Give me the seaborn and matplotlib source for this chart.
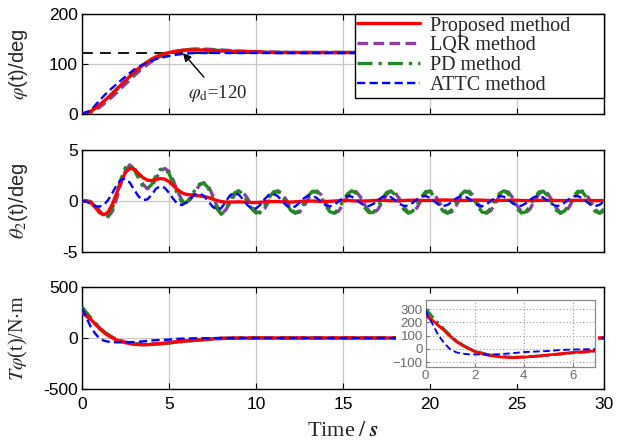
import numpy as np
import pandas as pd
import matplotlib
matplotlib.use("Agg")
import matplotlib.pyplot as plt
from matplotlib.patches import Rectangle
import seaborn as sns

sns.set_style("ticks")
plt.rcParams["font.family"] = ["Liberation Sans", "DejaVu Sans"]
plt.rcParams["mathtext.fontset"] = "stix"

# ---------------- data ----------------
methods = ["Proposed method", "LQR method", "PD method", "ATTC method"]

# panel 1: attitude angle phi(t) [deg]
t_phi = [0, 0.5, 1, 1.5, 2, 2.5, 3, 3.5, 4, 4.5, 5, 5.5, 6, 6.5, 7, 7.5, 8,
         9, 10, 11, 12, 14, 16, 18, 20, 22, 24, 26, 28, 30]
phi_ref = 123
phi_prop = [0, 5, 18, 33, 50, 67, 84, 98, 110, 118, 123, 126, 128, 128, 128, 127, 126,
            125, 124, 123, 123, 123, 123, 123, 123, 123, 123, 123, 123, 123]
phi_lqr = [0, 3, 13, 27, 43, 60, 77, 92, 105, 115, 121, 126, 129, 130, 130, 129, 128,
           126, 125, 124, 123, 123, 123, 123, 123, 123, 123, 123, 123, 123]
phi_pd = [0, 5, 17, 32, 49, 66, 83, 97, 109, 118, 123, 126, 128, 129, 129, 128, 127,
          125, 124, 123, 123, 123, 123, 123, 123, 123, 123, 123, 123, 123]
phi_attc = [0, 7, 27, 45, 60, 75, 89, 99, 107, 112, 116, 119, 121, 122, 122, 122, 122,
            122, 122, 122, 122, 122, 122, 122, 122, 122, 122, 122, 122, 122]

# panel 2: theta_2(t) [deg], sampled every 0.25 s from 0 to 30 s
t_theta = np.arange(121) * 0.25
th_prop = [0, 0, -0.15, -0.6, -1.1, -1.35, -1.1, -0.3,
           0.8, 1.9, 2.8, 3.2, 3.1, 2.7, 2.3, 2.05,
           2.0, 2.1, 2.2, 2.15, 1.9, 1.5, 1.1, 0.8,
           0.65, 0.6, 0.55, 0.5, 0.45, 0.35, 0.2, 0.05,
           -0.05, -0.1, -0.1, -0.1, -0.08, -0.1, -0.12, -0.15,
           -0.15, -0.12, -0.08, -0.05, -0.05, -0.05, -0.08, -0.1,
           -0.1, -0.08, -0.05, -0.02, 0.0, 0.0, -0.02, -0.05,
           -0.05, -0.03, 0.0, 0.02, 0.05, 0.05, 0.03, 0.0,
           -0.02, 0.0, 0.02, 0.05, 0.07, 0.07, 0.05, 0.03,
           0.02, 0.03, 0.05, 0.07, 0.08, 0.08, 0.06, 0.05,
           0.05, 0.06, 0.08, 0.1, 0.1, 0.08, 0.06, 0.05,
           0.05, 0.06, 0.08, 0.09, 0.08, 0.06, 0.05, 0.04,
           0.05, 0.06, 0.07, 0.08, 0.07, 0.05, 0.04, 0.04,
           0.05, 0.06, 0.07, 0.07, 0.06, 0.05, 0.04, 0.04,
           0.05, 0.06, 0.07, 0.07, 0.06, 0.05, 0.04, 0.04,
           0.05]
th_lqr = [0, 0, -0.05, -0.4, -0.95, -1.45, -1.55, -1.0,
          0.3, 1.8, 3.0, 3.55, 3.3, 2.5, 1.65, 1.2,
          1.4, 2.2, 2.9, 3.2, 2.9, 2.0, 0.9, 0.05,
          -0.2, 0.2, 0.9, 1.55, 1.8, 1.5, 0.6, -0.45,
          -1.2, -0.9, -0.21, 0.54, 0.97, 0.87, 0.29, -0.49,
          -1.07, -1.17, -0.74, 0.01, 0.71, 1.00, 0.75, 0.07,
          -0.69, -1.15, -1.10, -0.55, 0.23, 0.84, 0.98, 0.59,
          -0.15, -0.86, -1.20, -0.99, -0.33, 0.43, 0.94, 0.92,
          0.40, -0.37, -1.01, -1.19, -0.84, -0.12, 0.61, 0.99,
          0.82, 0.20, -0.58, -1.11, -1.15, -0.66, 0.10, 0.77,
          1.00, 0.68, -0.02, -0.76, -1.18, -1.06, -0.46, 0.32,
          0.88, 0.96, 0.51, -0.24, -0.93, -1.20, -0.93, -0.24,
          0.51, 0.96, 0.89, 0.32, -0.45, -1.05, -1.18, -0.77,
          -0.03, 0.68, 1.00, 0.77, 0.11, -0.66, -1.14, -1.11,
          -0.58, 0.19, 0.82, 0.99, 0.62, -0.11, -0.83, -1.19,
          -1.01]
th_pd = [0, 0, -0.1, -0.5, -1.1, -1.5, -1.45, -0.7,
         0.7, 2.2, 3.3, 3.6, 3.1, 2.2, 1.45, 1.2,
         1.6, 2.5, 3.1, 3.2, 2.7, 1.7, 0.6, -0.1,
         -0.15, 0.4, 1.1, 1.65, 1.75, 1.3, 0.3, -0.75,
         -1.3, -0.9, 0.10, 0.77, 1.00, 0.68, -0.02, -0.77,
         -1.18, -1.06, -0.46, 0.32, 0.89, 0.96, 0.51, -0.24,
         -0.93, -1.20, -0.93, -0.24, 0.51, 0.96, 0.88, 0.32,
         -0.46, -1.06, -1.18, -0.76, -0.02, 0.68, 1.00, 0.77,
         0.10, -0.66, -1.15, -1.11, -0.58, 0.20, 0.82, 0.99,
         0.61, -0.12, -0.84, -1.19, -1.00, -0.37, 0.40, 0.92,
         0.94, 0.43, -0.34, -0.99, -1.20, -0.86, -0.15, 0.59,
         0.98, 0.84, 0.23, -0.55, -1.10, -1.15, -0.69, 0.07,
         0.75, 1.00, 0.71, 0.01, -0.74, -1.17, -1.07, -0.49,
         0.28, 0.87, 0.97, 0.54, -0.21, -0.90, -1.20, -0.95,
         -0.28, 0.48, 0.95, 0.90, 0.35, -0.42, -1.04, -1.18,
         -0.79]
th_attc = [0, -0.05, -0.3, -0.5, -0.55, -0.4, 0.1, 0.8,
           1.6, 2.1, 2.2, 1.8, 1.1, 0.45, 0.1, 0.15,
           0.6, 1.2, 1.45, 1.3, 0.8, 0.2, -0.3, -0.4,
           -0.15, 0.3, 0.65, 0.75, 0.5, 0.0, -0.55, -0.85,
           -0.7, -0.1, 0.55, 0.80, 0.64, 0.17, -0.39, -0.75,
           -0.74, -0.36, 0.19, 0.62, 0.72, 0.47, 0.01, -0.44,
           -0.66, -0.54, -0.17, 0.26, 0.53, 0.53, 0.28, -0.10,
           -0.42, -0.52, -0.36, -0.04, 0.30, 0.49, 0.43, 0.16,
           -0.19, -0.45, -0.48, -0.28, 0.06, 0.38, 0.50, 0.38,
           0.06, -0.28, -0.48, -0.45, -0.19, 0.16, 0.43, 0.49,
           0.30, -0.04, -0.36, -0.50, -0.39, -0.09, 0.25, 0.48,
           0.46, 0.22, -0.13, -0.42, -0.50, -0.33, 0.01, 0.33,
           0.50, 0.41, 0.12, -0.23, -0.46, -0.47, -0.24, 0.11,
           0.40, 0.50, 0.35, 0.02, -0.31, -0.49, -0.43, -0.15,
           0.20, 0.45, 0.48, 0.27, -0.08, -0.38, -0.50, -0.37,
           -0.05]

# panel 3: control torque T_phi(t) [N.m]
t_tau = [0, 0.25, 0.5, 0.75, 1, 1.25, 1.5, 1.75, 2, 2.5, 3, 3.5, 4, 4.5, 5, 5.5,
         6, 6.5, 7, 7.5, 8, 9, 10, 12, 15, 20, 25, 30]
tau_prop = [267, 222, 182, 140, 95, 55, 26, 2, -21, -46, -61, -67, -63, -55, -46, -36,
            -27, -20, -14, -8, -4, -1, 0, 0, 0, 0, 0, 0]
tau_lqr = [250, 215, 180, 140, 100, 62, 32, 6, -15, -40, -55, -62, -60, -54, -47, -38,
           -30, -22, -16, -9, -4, -1, 0, 0, 0, 0, 0, 0]
tau_pd = [305, 250, 200, 150, 105, 65, 32, 5, -18, -44, -58, -64, -62, -56, -49, -40,
          -31, -24, -17, -10, -5, -1, 0, 0, 0, 0, 0, 0]
tau_attc = [290, 200, 110, 45, -3, -26, -36, -41, -42, -43, -40, -33, -24, -20, -16, -8,
            -5, -3, -2, -1, 0, 0, 0, 0, 0, 0, 0, 0]

for arr in (th_prop, th_lqr, th_pd, th_attc):
    assert len(arr) == len(t_theta), len(arr)

# ---------------- styles ----------------
styles = {
    "Proposed method": dict(color="#ff0000", lw=2.4, ls="-"),
    "LQR method": dict(color="#8a3fa8", lw=2.4, ls=(0, (3.2, 1.6))),
    "PD method": dict(color="#1f8a1f", lw=2.4, ls=(0, (4.5, 1.8, 1.0, 1.8))),
    "ATTC method": dict(color="#0000ff", lw=1.7, ls=(0, (3.5, 1.8))),
}
draw_order = ["LQR method", "PD method", "Proposed method", "ATTC method"]

W, H = 629, 445
fig = plt.figure(figsize=(W / 100, H / 100), dpi=100)
L, R = 82, 604


def add_ax(top, bottom):
    return fig.add_axes([L / W, 1 - bottom / H, (R - L) / W, (bottom - top) / H])


ax1 = add_ax(14, 114)
ax2 = add_ax(150, 252)
ax3 = add_ax(287, 389)

series = {
    ax1: (t_phi, dict(zip(methods, [phi_prop, phi_lqr, phi_pd, phi_attc]))),
    ax2: (t_theta, dict(zip(methods, [th_prop, th_lqr, th_pd, th_attc]))),
    ax3: (t_tau, dict(zip(methods, [tau_prop, tau_lqr, tau_pd, tau_attc]))),
}

for ax, (tt, data) in series.items():
    for m in draw_order:
        st = styles[m]
        sns.lineplot(x=tt, y=data[m], ax=ax, color=st["color"], linewidth=st["lw"],
                     linestyle=st["ls"], label=m if ax is ax1 else None,
                     legend=False, zorder=3)

ax1.axhline(phi_ref, color="black", lw=1.3, ls=(0, (6, 4)), zorder=2.5)

ylims = {ax1: (0, 200), ax2: (-5, 5), ax3: (-500, 500)}
yticks = {ax1: [0, 100, 200], ax2: [-5, 0, 5], ax3: [-500, 0, 500]}
for ax in (ax1, ax2, ax3):
    ax.set_xlim(0, 30)
    ax.set_ylim(*ylims[ax])
    ax.set_xticks([0, 5, 10, 15, 20, 25, 30])
    ax.set_yticks(yticks[ax])
    ax.grid(True, color="#c8c8c8", lw=0.9)
    ax.tick_params(direction="in", top=True, right=True, length=4, width=0.8,
                   labelsize=12.5, colors="black", pad=3)
    for sp in ax.spines.values():
        sp.set_visible(True)
        sp.set_color("black")
        sp.set_linewidth(1.0)
    ax.set_xlabel("")
    ax.yaxis.set_label_coords(-0.1, 0.5)

ax1.tick_params(labelbottom=False)
ax2.tick_params(labelbottom=False)
ax3.tick_params(axis="x", pad=6)
ax2.set_yticklabels(["-5", "0", "5"])
ax3.set_yticklabels(["-500", "0", "500"])

ax1.set_ylabel(r"$\varphi$(t)/deg", fontsize=14.5)
ax2.set_ylabel(r"$\theta_2$(t)/deg", fontsize=14.5)
ax3.set_ylabel(r"$T\varphi$(t)/N$\cdot$m", fontsize=14.5, family="Liberation Serif")
ax3.set_xlabel(r"Time$\;/\;$$\mathbfit{s}$", fontsize=16, family="Liberation Serif",
               labelpad=7)

ax1.annotate(r"$\varphi_{\rm d}$=120", xy=(5.8, 122), xytext=(7.8, 42),
             ha="center", va="center", fontsize=13.5, family="Liberation Serif",
             arrowprops=dict(arrowstyle="-|>", color="black", lw=1.0,
                             mutation_scale=12, shrinkA=2, shrinkB=0),
             zorder=6)

handles, labels = ax1.get_legend_handles_labels()
order = [labels.index(m) for m in methods]
leg_x0 = (355 - L) / (R - L)
leg = ax1.legend([handles[i] for i in order], [labels[i] for i in order],
                 loc="upper left", bbox_to_anchor=(leg_x0, 0.0, 1.0 - leg_x0, 1.0),
                 mode="expand", borderaxespad=0,
                 frameon=True, fancybox=False, edgecolor="black", framealpha=1,
                 prop=dict(family="Liberation Serif", size=14.5), handlelength=3.1,
                 handletextpad=0.5, labelspacing=0.04, borderpad=0.12)
leg.get_frame().set_linewidth(1.0)
leg.set_zorder(10)

# white panel behind the inset (covers the main curves, as in the pasted figure)
fig.add_artist(Rectangle((396 / W, 1 - 384 / H), (598 - 396) / W, (384 - 294) / H,
                         transform=fig.transFigure, facecolor="white",
                         edgecolor="none", zorder=2))

axin = fig.add_axes([425.6 / W, 1 - 367 / H, (595 - 425.6) / W, (367 - 299.5) / H],
                    zorder=3)
for m in draw_order:
    st = styles[m]
    sns.lineplot(x=t_tau, y=series[ax3][1][m], ax=axin, color=st["color"],
                 linewidth=st["lw"] * 0.8, linestyle=st["ls"], legend=False, zorder=3)
axin.set_xlim(0, 6.9)
axin.set_ylim(-137, 374)
axin.set_xticks([0, 2, 4, 6])
axin.set_yticks([-100, 0, 100, 200, 300])
axin.grid(True, color="#9a9a9a", lw=0.8, ls=(0, (1, 2)))
axin.tick_params(direction="in", length=2.5, labelsize=9.5, colors="#6a6a6a",
                 pad=2)
axin.set_xlabel("")
axin.set_ylabel("")
for sp in axin.spines.values():
    sp.set_visible(True)
    sp.set_color("#8a8a8a")
    sp.set_linewidth(0.9)

fig.savefig("out.png", dpi=100)
